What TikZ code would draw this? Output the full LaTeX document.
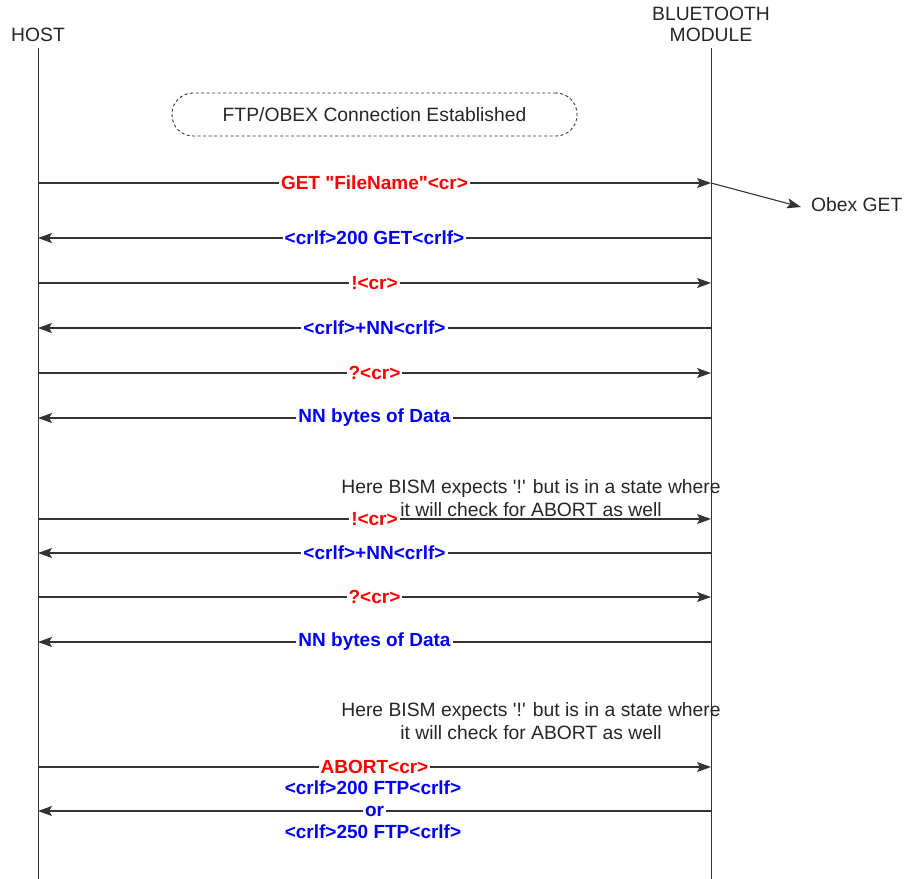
\documentclass[tikz,border=0pt]{standalone}
\usepackage{fontspec}
\setmainfont{Liberation Sans}
\usetikzlibrary{arrows.meta}
\definecolor{linegray}{HTML}{333333}
\tikzset{
  lifeline/.style={draw=linegray, line width=1pt},
  msg/.style={draw=linegray, line width=1.1pt, -{Stealth[length=14pt,width=10pt,inset=3pt]}},
  redlbl/.style={text=red, fill=white, font=\fontsize{19}{22}\selectfont\bfseries, inner sep=2pt},
  bluelbl/.style={text=blue, fill=white, font=\fontsize{19}{22}\selectfont\bfseries, inner sep=2pt},
  plain/.style={text=black!85, font=\fontsize{19.3}{22}\selectfont, inner sep=0pt, align=center},
  statebox/.style={draw=black!80, line width=0.9pt, dash pattern=on 3pt off 2.5pt, rounded corners=21pt, minimum width=405pt, minimum height=43pt, font=\fontsize{19.3}{22}\selectfont, text=black!85}
}
\begin{document}
\begin{tikzpicture}[x=1pt,y=-1pt]
\useasboundingbox (0,0) rectangle (906,879);
% headers
\node[plain] (host) at (38,35) {HOST};
\node[plain] (bt) at (711,14) {BLUETOOTH};
\node[plain] (mod) at (711,35) {MODULE};
\coordinate (htop) at (38,48);
\coordinate (hbot) at (38,879);
\coordinate (mtop) at (711,48);
\coordinate (mbot) at (711,879);
\draw[lifeline] (htop) -- (hbot);
\draw[lifeline] (mtop) -- (mbot);
% state box
\node[statebox] (conn) at (374.5,114.5) {FTP/OBEX Connection Established};
% message coordinates
\foreach \n/\y in {1/183,2/238,3/283,4/328,5/373,6/418,7/519,8/553,9/597,10/642,11/767,12/811}{
  \coordinate (h\n) at (38,\y);
  \coordinate (m\n) at (711,\y);
}
\draw[msg] (h1) -- (m1) node[midway, redlbl] (l1) {GET \textquotedbl FileName\textquotedbl<cr>};
\node[plain, anchor=west] (obex) at (811,205) {Obex GET};
\coordinate (obexin) at (801,207);
\draw[msg] (m1) -- (obexin);
\draw[msg] (m2) -- (h2) node[midway, bluelbl] (l2) {<crlf>200 GET<crlf>};
\draw[msg] (h3) -- (m3) node[midway, redlbl] (l3) {!<cr>};
\draw[msg] (m4) -- (h4) node[midway, bluelbl] (l4) {<crlf>+NN<crlf>};
\draw[msg] (h5) -- (m5) node[midway, redlbl] (l5) {?<cr>};
\draw[msg] (m6) -- (h6) node[midway, bluelbl] (l6) {NN bytes of Data};
\node[plain] (note1) at (531,498) {Here BISM expects \textquotesingle!\textquotesingle{} but is in a state where\\[1pt]it will check for ABORT as well};
\draw[msg] (h7) -- (m7) node[midway, redlbl] (l7) {!<cr>};
\draw[msg] (m8) -- (h8) node[midway, bluelbl] (l8) {<crlf>+NN<crlf>};
\draw[msg] (h9) -- (m9) node[midway, redlbl] (l9) {?<cr>};
\draw[msg] (m10) -- (h10) node[midway, bluelbl] (l10) {NN bytes of Data};
\node[plain] (note2) at (531,721) {Here BISM expects \textquotesingle!\textquotesingle{} but is in a state where\\[1pt]it will check for ABORT as well};
\draw[msg] (h11) -- (m11) node[midway, redlbl] (l11) {ABORT<cr>};
\draw[msg] (m12) -- (h12) node[midway, bluelbl] (l12) {or};
\node[bluelbl, fill=none] (l12a) at (373,788) {<crlf>200 FTP<crlf>};
\node[bluelbl, fill=none] (l12b) at (373,832) {<crlf>250 FTP<crlf>};
\end{tikzpicture}
\end{document}
